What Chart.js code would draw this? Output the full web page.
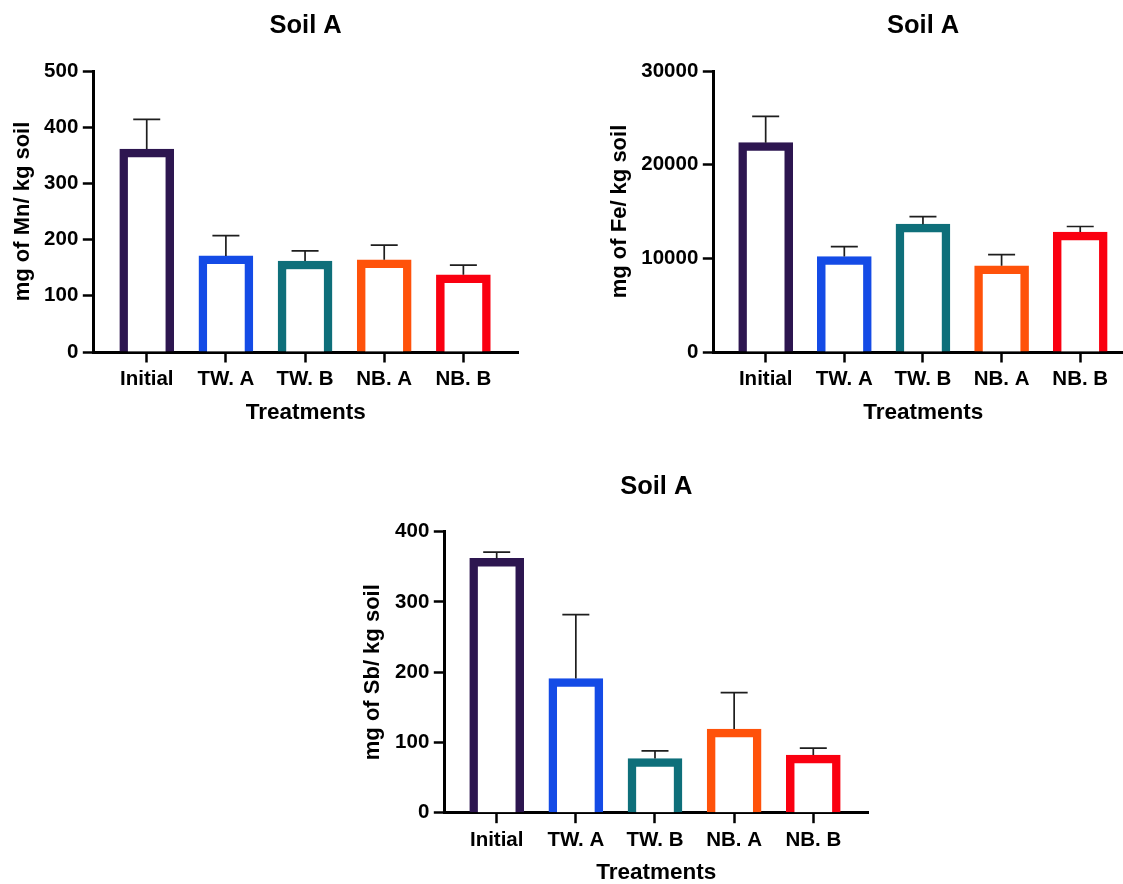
<!DOCTYPE html>
<html lang="en">
<head>
    <meta charset="UTF-8">
    <title>Soil A</title>
    <script src="https://cdn.jsdelivr.net/npm/chart.js"></script>
    <style>
        html, body {
            margin: 0;
            width: 1123px;
            height: 884px;
            overflow: hidden;
            background: #fff;
        }
        .box {
            position: absolute;
        }
    </style>
</head>
<body>
    <div class="box" style="left:0px;top:0px;width:530px;height:440px;"><canvas id="mnChart"></canvas></div>
    <div class="box" style="left:600px;top:0px;width:533px;height:440px;"><canvas id="feChart"></canvas></div>
    <div class="box" style="left:350px;top:460px;width:530px;height:440px;"><canvas id="sbChart"></canvas></div>

    <script>
        // data
        const categories = ['Initial', 'TW. A', 'TW. B', 'NB. A', 'NB. B'];
        const barColors = ['#2d1650', '#144be6', '#0e6f7a', '#ff520a', '#fa0010'];

        const mnMeans = [361, 171, 162, 164, 137.5];
        const mnErrors = [53, 36, 18, 26, 17];
        const mnTicks = [0, 100, 200, 300, 400, 500];

        const feMeans = [22350, 10200, 13650, 9200, 12800];
        const feErrors = [2800, 1050, 800, 1200, 600];
        const feTicks = [0, 10000, 20000, 30000];

        const sbMeans = [362, 191, 77, 119, 82];
        const sbErrors = [9, 91, 11, 52, 10];
        const sbTicks = [0, 100, 200, 300, 400];

        const FONT = 'Arial, "Liberation Sans", sans-serif';

        // error bars (upper only) drawn with the chart's own y scale
        const errorBars = {
            id: 'errorBars',
            afterDatasetsDraw(chart, args, opts) {
                const ctx = chart.ctx;
                const yScale = chart.scales.y;
                const meta = chart.getDatasetMeta(0);
                const values = chart.data.datasets[0].data;
                ctx.save();
                ctx.strokeStyle = '#1e1e1e';
                ctx.lineWidth = 1.7;
                meta.data.forEach((bar, i) => {
                    const top = yScale.getPixelForValue(values[i].y + opts.errors[i]);
                    ctx.beginPath();
                    ctx.moveTo(bar.x, bar.y);
                    ctx.lineTo(bar.x, top);
                    ctx.moveTo(bar.x - 13.5, top);
                    ctx.lineTo(bar.x + 13.5, top);
                    ctx.stroke();
                });
                ctx.restore();
            }
        };

        function makeChart(id, s) {
            const ctx = document.getElementById(id).getContext('2d');
            return new Chart(ctx, {
                type: 'bar',
                data: {
                    datasets: [{
                        data: s.means.map((v, i) => ({ x: i, y: v })),
                        backgroundColor: '#ffffff',
                        borderColor: barColors,
                        borderWidth: 8.5,
                        borderSkipped: 'start',
                        barThickness: 54
                    }]
                },
                plugins: [errorBars],
                options: {
                    responsive: true,
                    maintainAspectRatio: false,
                    animation: false,
                    layout: { padding: { left: 0, right: s.padRight, top: 0, bottom: 0 } },
                    plugins: {
                        legend: { display: false },
                        tooltip: { enabled: false },
                        title: {
                            display: true,
                            text: 'Soil A',
                            fullSize: false,
                            color: '#000',
                            font: { family: FONT, size: 25.5, weight: 'bold', lineHeight: 1.2 },
                            padding: { top: s.titleTop, bottom: s.titleBottom }
                        },
                        errorBars: { errors: s.errors }
                    },
                    scales: {
                        x: {
                            type: 'linear',
                            min: s.xMin,
                            max: s.xMax,
                            offset: false,
                            afterBuildTicks: sc => { sc.ticks = categories.map((_, i) => ({ value: i })); },
                            afterFit: sc => { sc.height = 440 - s.bottom; },
                            ticks: {
                                autoSkip: false,
                                maxRotation: 0,
                                padding: 4.5,
                                color: '#000',
                                font: { family: FONT, size: 20.5, weight: 'bold' },
                                callback: v => categories[Math.round(v)]
                            },
                            grid: {
                                offset: false,
                                drawOnChartArea: false,
                                drawTicks: true,
                                tickLength: 10.5,
                                tickWidth: 2.5,
                                tickColor: '#000'
                            },
                            border: { display: true, color: '#000', width: 3 },
                            title: {
                                display: true,
                                text: 'Treatments',
                                color: '#000',
                                font: { family: FONT, size: 22.5, weight: 'bold', lineHeight: 1.2 },
                                padding: { top: 0, bottom: 13.4 }
                            }
                        },
                        y: {
                            min: 0,
                            max: s.ticks[s.ticks.length - 1],
                            afterBuildTicks: sc => { sc.ticks = s.ticks.map(v => ({ value: v })); },
                            afterFit: sc => { sc.width = s.yWidth; },
                            ticks: {
                                padding: 4.5,
                                color: '#000',
                                font: { family: FONT, size: 20.5, weight: 'bold' },
                                callback: v => String(v)
                            },
                            grid: {
                                drawOnChartArea: false,
                                drawTicks: true,
                                tickLength: 10.5,
                                tickWidth: 2.5,
                                tickColor: '#000'
                            },
                            border: { display: true, color: '#000', width: 3 },
                            title: {
                                display: true,
                                text: s.yTitle,
                                color: '#000',
                                font: { family: FONT, size: 22, weight: 'bold', lineHeight: 1.2 },
                                padding: { top: s.yTitlePad, bottom: 0 }
                            }
                        }
                    }
                }
            });
        }

        makeChart('mnChart', {
            means: mnMeans, errors: mnErrors, ticks: mnTicks,
            yTitle: 'mg of Mn/ kg soil',
            xMin: -0.675, xMax: 4.69, padRight: 12,
            yWidth: 93.3, yTitlePad: 9.8,
            titleTop: 11, titleBottom: 29.4, bottom: 352
        });

        makeChart('feChart', {
            means: feMeans, errors: feErrors, ticks: feTicks,
            yTitle: 'mg of Fe/ kg soil',
            xMin: -0.666, xMax: 4.671, padRight: 0,
            yWidth: 113.3, yTitlePad: 6.8,
            titleTop: 11, titleBottom: 29.4, bottom: 352
        });

        makeChart('sbChart', {
            means: sbMeans, errors: sbErrors, ticks: sbTicks,
            yTitle: 'mg of Sb/ kg soil',
            xMin: -0.662, xMax: 4.695, padRight: 11.7,
            yWidth: 94.3, yTitlePad: 10.1,
            titleTop: 12, titleBottom: 29.1, bottom: 352.7
        });
    </script>
</body>
</html>
